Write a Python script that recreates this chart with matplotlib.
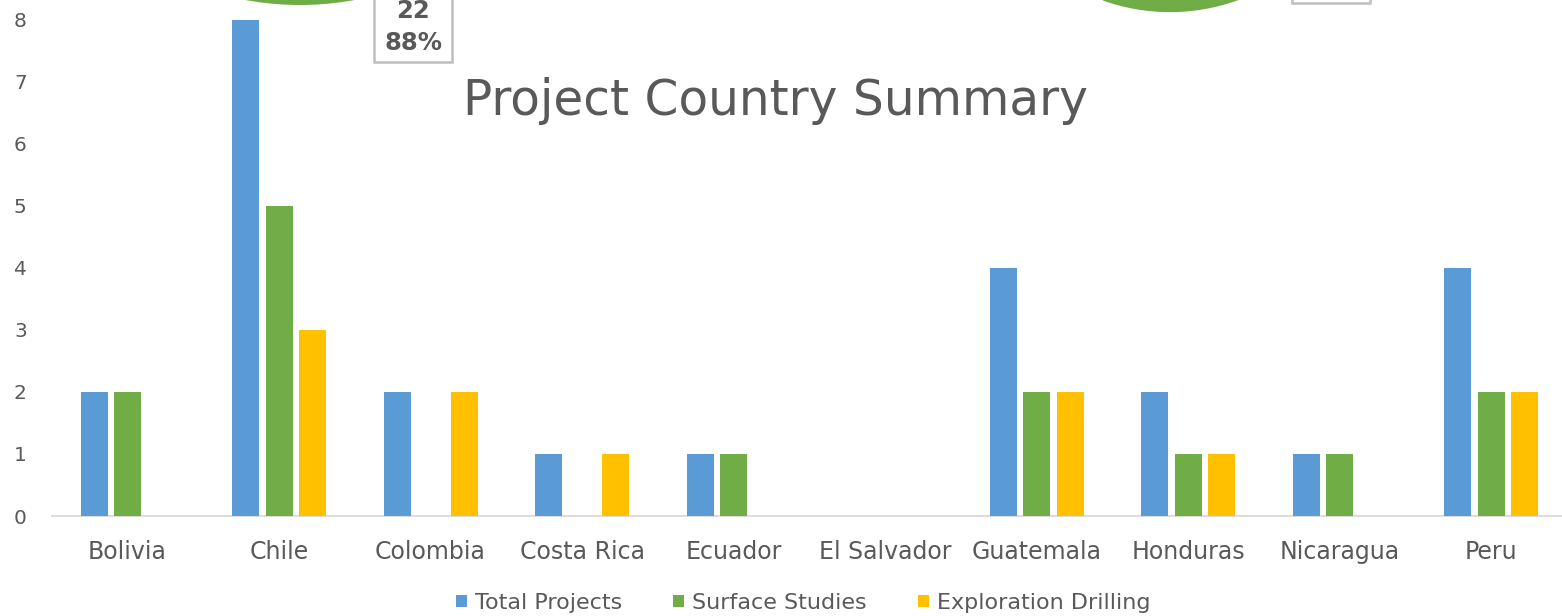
import matplotlib
matplotlib.use("Agg")
import matplotlib.pyplot as plt
from matplotlib.patches import Wedge, Rectangle, Patch
import numpy as np

countries = ["Bolivia", "Chile", "Colombia", "Costa Rica", "Ecuador",
             "El Salvador", "Guatemala", "Honduras", "Nicaragua", "Peru"]
total_projects = [2, 8, 2, 1, 1, 0, 4, 2, 1, 4]
surface_studies = [2, 5, 0, 0, 1, 0, 2, 1, 1, 2]
exploration_drilling = [0, 3, 2, 1, 0, 0, 2, 1, 0, 2]
series_names = ["Total Projects", "Surface Studies", "Exploration Drilling"]
yticks = [0, 1, 2, 3, 4, 5, 6, 7, 8]
pie_label_value = "22"
pie_label_pct = "88%"

colors = ["#5B9BD5", "#70AD47", "#FFC000"]
text_color = "#595959"
plt.rcParams['font.family'] = ["DejaVu Sans"]

W, H = 1562, 616
fig = plt.figure(figsize=(W / 100, H / 100), dpi=100)

left_px, right_px = 51.75, 1567
bottom_px = 516
unit_px = 62.06
ytop = 8.5
top_px = bottom_px - ytop * unit_px
ax = fig.add_axes([left_px / W, (H - bottom_px) / H,
                   (right_px - left_px) / W, (bottom_px - top_px) / H])

x = np.arange(len(countries))
bw = 0.178
step = 0.221
for i, (vals, c) in enumerate(zip([total_projects, surface_studies, exploration_drilling], colors)):
    ax.bar(x + (i - 1) * step, vals, width=bw, color=c, clip_on=False, zorder=3)

ax.set_xlim(-0.5, len(countries) - 0.5)
ax.set_ylim(0, ytop)
ax.set_yticks(yticks)
ax.set_xticks(x)
ax.set_xticklabels(countries)
for s in ["top", "right", "left"]:
    ax.spines[s].set_visible(False)
ax.spines["bottom"].set_color("#D9D9D9")
ax.spines["bottom"].set_linewidth(1.3)
ax.tick_params(axis="both", length=0, colors=text_color)
ax.tick_params(axis="x", labelsize=17, pad=17)
ax.tick_params(axis="y", labelsize=14.5, pad=18)
ax.patch.set_alpha(0)

fig.text(775 / W, 1 - 101 / H, "Project Country Summary", ha="center", va="center",
         fontsize=35, color=text_color)

handles = [Patch(facecolor=c) for c in colors]
leg = fig.legend(handles, series_names, loc="center", bbox_to_anchor=(803 / W, 1 - 603 / H),
                 ncol=3, frameon=False, fontsize=16, handlelength=0.5, handleheight=0.5,
                 handletextpad=0.35, columnspacing=2.3, labelcolor=text_color)

# overlay for clipped pie-chart fragments at the top
ov = fig.add_axes([0, 0, 1, 1], zorder=5)
ov.set_xlim(0, W)
ov.set_ylim(H, 0)
ov.axis("off")
ov.patch.set_alpha(0)
ov.add_patch(Wedge((300, 5 - 300), 300, 20, 160, facecolor=colors[1], edgecolor="none"))
ov.add_patch(Wedge((1170, 13 - 200), 200, 30, 110.0, facecolor=colors[1], edgecolor="white", linewidth=1.2))
ov.add_patch(Wedge((1170, 13 - 200), 200, 110.0, 170, facecolor=colors[0], edgecolor="white", linewidth=1.2))
ov.add_patch(Rectangle((374, -20), 78, 82, facecolor="white", edgecolor="#BFBFBF", linewidth=1.8))
ov.add_patch(Rectangle((1292, -20), 78, 23, facecolor="white", edgecolor="#BFBFBF", linewidth=1.8))
ov.text(413, 10.5, pie_label_value, ha="center", va="center", fontsize=17.5, fontweight="bold", color=text_color)
ov.text(413, 43, pie_label_pct, ha="center", va="center", fontsize=17.5, fontweight="bold", color=text_color)

fig.savefig("out.png", dpi=100)
